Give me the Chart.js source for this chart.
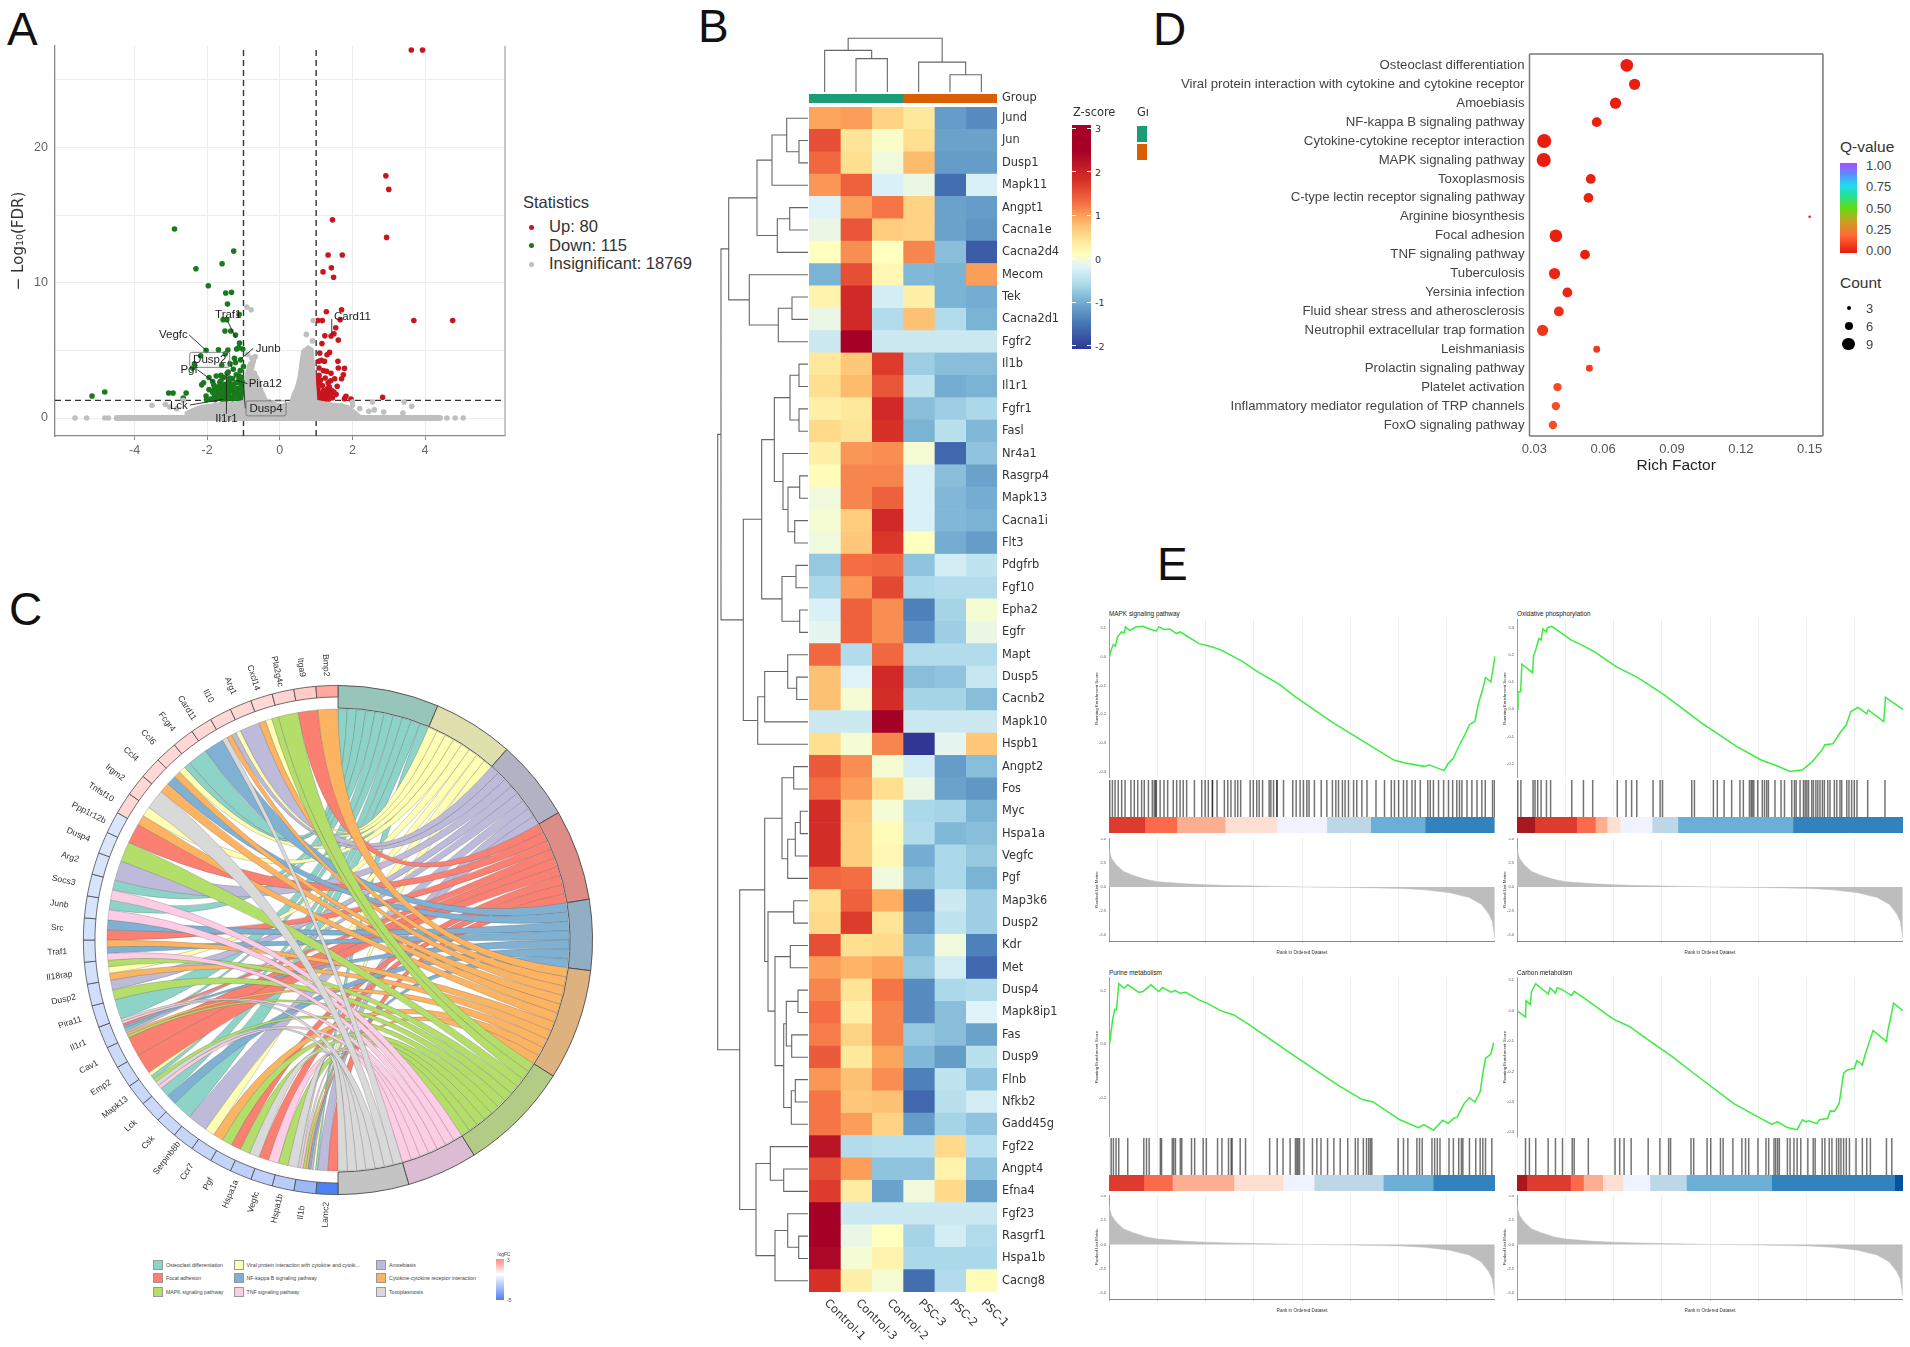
<!DOCTYPE html>
<html>
<head>
<meta charset="utf-8">
<script src="https://cdn.jsdelivr.net/npm/chart.js@4/dist/chart.umd.min.js"></script>
<style>
  body { margin: 0; background: #fff; overflow: hidden; }
  #page { position: relative; width: 1910px; height: 1347px; overflow: hidden; font-family: "Liberation Sans", Arial, sans-serif; }
  #page div { position: absolute; white-space: nowrap; }
  canvas { position: absolute; }
</style>
</head>
<body>
<div id="page"></div>
<script>
// ---- panel A, volcano
const upX = [3.62,3.93,2.92,3.0,2.94,1.45,1.33,1.72,1.42,1.19,1.48,1.28,1.70,1.05,1.17,1.66,3.69,4.76,1.54,1.24,1.41,1.49,1.61,1.16,1.1,1.37,1.3,1.14,1.07,1.23,1.6,1.08,1.29,1.41,1.61,1.78,1.75,1.7,1.08,1.33,1.51,1.05,1.17,1.36,1.58,1.05,1.21,1.42,1.08,1.27,1.49,1.02,1.14,1.33,1.05,1.23,1.82,1.78,1.96,2.83,1.1,1.18,1.3,1.4,1.25,1.35,1.15,1.06,1.12,1.25,1.4,1.55,1.02,1.2,1.02,1.32,1.45,1.12];
const upY = [27.2,27.2,17.9,16.9,13.35,14.65,12.05,12.05,11.1,10.8,10.4,7.85,8.0,7.2,7.2,7.27,7.2,7.2,6.67,6.08,6.06,6.23,5.76,5.5,4.8,4.85,4.68,4.26,4.2,4.2,4.2,3.7,3.45,3.3,3.7,3.67,3.2,2.9,3.15,2.6,2.9,2.55,2.4,2.3,2.35,2.17,2.05,2.05,1.85,1.67,1.92,1.55,1.6,1.6,1.43,1.5,1.6,1.43,1.4,1.53,1.7,1.8,1.9,1.75,1.35,1.4,1.35,1.9,2.8,2.95,2.75,1.75,2.9,3.5,2.2,2.2,1.5,1.45];
const downX = [-2.90,-1.27,-1.59,-2.31,-1.97,-1.49,-1.33,-1.44,-1.12,-1.56,-1.46,-1.51,-1.35,-1.22,-1.11,-1.13,-2.03,-1.69,-1.43,-1.19,-1.02,-2.18,-1.5,-1.25,-1.08,-2.35,-2.4,-1.37,-1.0,-1.6,-1.28,-1.45,-1.09,-1.2,-1.3,-1.05,-1.95,-2.1,-2.15,-1.75,-1.55,-1.65,-1.85,-1.7,-1.8,-1.6,-1.5,-1.4,-1.2,-1.1,-1.0,-1.75,-1.6,-1.45,-1.3,-1.15,-1.05,-1.85,-1.7,-1.55,-1.4,-1.25,-1.1,-1.0,-1.8,-1.65,-1.5,-1.35,-1.2,-1.05,-1.9,-1.75,-1.6,-1.45,-1.3,-1.15,-1.0,-2.03,-2.02,-2.58,-2.66,-3.06,-2.94,-5.17,-4.82,-1.78,-1.68,-1.58,-1.48,-1.38,-1.28,-1.18,-1.08,-1.82,-1.72,-1.62,-1.52,-1.42,-1.32,-1.22,-1.12,-1.02,-1.7,-1.55,-1.35,-1.15,-1.25,-1.42,-1.62,-1.85,-1.95,-1.38,-1.12,-1.03,-1.22];
const downY = [13.97,12.34,11.4,11.03,9.78,9.24,9.29,8.42,7.66,7.27,7.27,6.43,6.43,6.13,5.54,5.2,5.0,5.05,5.02,5.1,5.1,4.6,4.75,4.42,4.3,4.0,3.7,4.0,3.8,3.9,3.6,3.3,3.5,3.2,2.9,3.0,3.0,2.6,2.45,3.1,3.0,2.65,2.7,2.3,2.2,2.4,2.5,2.7,2.6,2.6,2.4,2.0,2.05,2.1,2.15,2.2,2.05,1.9,1.75,1.8,1.85,1.9,1.75,1.7,1.6,1.55,1.6,1.55,1.6,1.5,1.4,1.45,1.4,1.4,1.4,1.4,1.35,1.63,1.35,1.85,1.48,1.85,1.85,1.63,1.92,1.35,1.65,1.95,2.25,1.55,2.35,1.95,2.25,2.45,2.12,2.75,1.7,2.3,2.5,1.7,2.9,1.9,1.55,1.35,2.05,1.5,1.8,3.4,3.15,2.0,2.1,2.95,3.1,2.7,4.1];
const insigX = [-5.64,-5.32,-4.82,-4.72,4.6,4.83,5.05,-3.52,-3.15,-3.03,-2.84,-2.66,2.0,2.0,2.55,2.86,3.42,3.63,3.39,1.7,2.2,2.6,2.45,-0.91,-0.79,0.92,0.73,0.9,-0.89,-0.77,-0.68,-0.83,-0.7,-0.6];
const insigY = [0,0,0,0,0,0,0,0.94,1.01,0.81,0.69,1.3,0.94,1.18,1.18,0.44,1.18,0.86,0.37,0.9,0.7,0.6,0.5,8.2,8,7.2,6.18,5.7,4.7,4.43,4.55,3.8,3.3,2.7];
// outline of the grey mass that is too dense to read point by point
const insigOutlineX = [-2.61,-2.61,-2.42,-2.18,-1.93,-1.56,-1.19,-1.0,-0.97,-0.95,-0.85,-0.64,-0.73,-0.58,-0.46,-0.33,0.04,0.28,0.34,0.43,0.5,0.55,0.6,0.78,0.92,0.97,1.02,1.27,1.88,2.13,2.31];
const insigOutlineY = [0,0.44,0.69,0.94,1.01,1.18,1.18,1.3,1.8,3.28,4.14,4.5,3.55,3.05,2.04,1.3,1.01,1.18,1.8,2.29,3.03,4.01,5.0,5.37,5.12,3.28,1.3,1.18,0.94,0.44,0];
const insigBaseX = [-4.49,4.41];
const insigBaseY = [0,0];
const volcanoNames = ["Traf1","Card11","Vegfc","Junb","Dusp2","Pgf","Pira12","Dusp4","Lck","Il1r1"];
const volcanoNameX = [-1.42,2.0,-2.93,-0.32,-1.93,-2.5,-0.4,-0.38,-2.78,-1.47];
const volcanoNameY = [7.6,7.45,6.18,5.15,4.3,3.57,2.54,0.71,0.89,-0.05];
const volcanoLineFrom = [[-1.44,7.18],[1.43,7.32],[-2.5,6.15],[-0.73,5.15],[-1.41,4.23],[-2.27,3.57],[-0.89,2.54],[-0.95,0.71],[-2.48,0.96],[-1.47,0.32]];
const volcanoLineTo = [[-1.22,5.95],[1.43,6.13],[-2.03,5.0],[-1.08,4.35],[-1.32,3.74],[-1.81,2.66],[-1.2,2.79],[-1,2.54],[-1.56,1.38],[-1.47,3.28]];
const volcanoBoxed = ["Dusp2","Dusp4"];

// ---- panel B, heatmap
const samples = ["Control-1","Control-3","Control-2","PSC-3","PSC-2","PSC-1"];
const genes = ["Jund","Jun","Dusp1","Mapk11","Angpt1","Cacna1e","Cacna2d4","Mecom","Tek","Cacna2d1","Fgfr2","Il1b","Il1r1","Fgfr1","Fasl","Nr4a1","Rasgrp4","Mapk13","Cacna1i","Flt3","Pdgfrb","Fgf10","Epha2","Egfr","Mapt","Dusp5","Cacnb2","Mapk10","Hspb1","Angpt2","Fos","Myc","Hspa1a","Vegfc","Pgf","Map3k6","Dusp2","Kdr","Met","Dusp4","Mapk8ip1","Fas","Dusp9","Flnb","Nfkb2","Gadd45g","Fgf22","Angpt4","Efna4","Fgf23","Rasgrf1","Hspa1b","Cacng8"];
const zScores = [
  [0.95,1.0,0.6,0.4,-1.15,-1.3],[1.55,0.45,0.05,0.5,-1.1,-1.1],[1.35,0.5,-0.05,0.8,-1.15,-1.15],[1.05,1.4,-0.25,-0.1,-1.55,-0.25],
  [-0.2,1.0,1.25,0.6,-1.1,-1.15],[-0.1,1.5,0.65,0.6,-1.1,-1.2],[0.1,1.1,0.1,1.15,-0.85,-1.7],[-0.95,1.55,0.2,-0.9,-0.95,1.0],
  [0.25,1.9,-0.3,0.3,-0.95,-1.0],[-0.1,1.9,-0.55,0.75,-0.55,-0.95],[-0.35,2.6,-0.35,-0.35,-0.35,-0.35],[0.4,0.7,1.7,-0.7,-0.85,-0.85],
  [0.5,0.8,1.5,-0.45,-1.0,-0.95],[0.3,0.4,1.9,-0.85,-0.7,-0.6],[0.55,0.45,1.8,-0.95,-0.5,-0.9],[0.3,1.05,1.1,0,-1.6,-0.8],
  [0.15,1.15,1.15,-0.25,-0.85,-1.1],[-0.05,1.15,1.4,-0.25,-0.9,-1],[0,0.65,1.9,-0.25,-0.9,-0.95],[-0.05,0.7,1.75,0.1,-1,-1.15],
  [-0.75,1.3,1.35,-0.8,-0.3,-0.45],[-0.6,1.05,1.6,-0.6,-0.55,-0.55],[-0.25,1.4,1.1,-1.4,-0.65,0],[-0.15,1.4,1.1,-1.25,-0.7,-0.1],
  [1.35,-0.55,1.35,-0.55,-0.55,-0.55],[0.75,-0.2,1.9,-0.85,-0.8,-0.4],[0.75,0,1.85,-0.65,-0.65,-0.85],[-0.35,-0.35,2.6,-0.35,-0.35,-0.35],
  [0.5,0,1.15,-2,-0.15,0.7],[1.45,1.1,0,-0.3,-1.15,-0.85],[1.3,1,0.5,-0.1,-1.1,-1.2],[1.85,0.7,0,-0.6,-0.65,-0.95],
  [1.85,0.65,0.15,-0.55,-0.9,-0.85],[1.85,0.65,0.2,-1,-0.6,-0.75],[1.35,1.3,-0.05,-0.85,-0.6,-0.95],[0.5,1.4,0.9,-1.4,-0.35,-0.7],
  [0.55,1.7,0.45,-1.2,-0.45,-0.7],[1.55,0.5,0.55,-0.9,-0.05,-1.4],[1,0.85,0.95,-0.75,-0.3,-1.6],[1.15,0.45,1.25,-1.3,-0.6,-0.55],
  [1.3,0.3,1.15,-1.3,-0.85,-0.2],[1.2,0.6,1.15,-0.75,-0.85,-1.1],[1.45,0.4,0.95,-0.9,-1.15,-0.5],[1.05,0.75,1.1,-1.4,-0.45,-0.8],
  [1.25,0.7,0.75,-1.6,-0.5,-0.3],[1.25,1,0.6,-1.15,-0.65,-0.8],[2.2,-0.55,-0.5,-0.5,0.55,-0.5],[1.55,1,-0.8,-0.8,0.25,-0.8],
  [1.7,0.35,-1.1,-0.05,0.55,-1.1],[2.6,-0.35,-0.35,-0.35,-0.35,-0.35],[2.5,-0.1,0.1,-0.65,-0.3,-0.55],[2.4,0,0.25,-0.6,-0.6,-0.6],[1.8,0.3,0,-1.55,-0.55,0.15]
];
// dendrograms: [height, childA, childB], a plain number is a leaf index
const rowTree = [90.3,
  [87,
    [79.3,
      [51,[36,[21.3,0,[9,1,2]],3],[30.7,[18.3,4,5],6]],
      [58.7,7,[29.7,[16,8,9],10]]],
    [64.7,
      [46.3,
        [33.7,[18,[9,11,12],[9,13,14]],[25,15,[20,[8.3,16,17],[13.3,18,19]]]],
        [26,[12,20,21],[8.3,22,23]]],
      [50.3,[43.3,[20.3,24,[11.3,25,26]],27],28]]],
  [68.3,
    [43.3,
      [26,[14.3,29,30],[20.3,[12.7,[7.7,31,32],33],34]],
      [40,[14.3,35,36],[33,[17.7,37,38],[24.3,[21.7,[10,39,40],[16.3,41,42]],[16.7,[12.7,43,44],45]]]]],
    [52,
      [37.7,46,[24.3,47,48]],
      [33,[20.3,49,[9.3,50,51]],52]]]];
const colTree = [53.8,[41.6,0,[33.4,1,2]],[29.9,3,[17.3,4,5]]];
const groupSizes = [3,3];
const zTicks = [3,2,1,0,-1,-2];

// ---- panel D, enrichment
const pathways = ["Osteoclast differentiation","Viral protein interaction with cytokine and cytokine receptor","Amoebiasis","NF-kappa B signaling pathway","Cytokine-cytokine receptor interaction","MAPK signaling pathway","Toxoplasmosis","C-type lectin receptor signaling pathway","Arginine biosynthesis","Focal adhesion","TNF signaling pathway","Tuberculosis","Yersinia infection","Fluid shear stress and atherosclerosis","Neutrophil extracellular trap formation","Leishmaniasis","Prolactin signaling pathway","Platelet activation","Inflammatory mediator regulation of TRP channels","FoxO signaling pathway"];
const richFactor = [0.0703,0.0737,0.0654,0.0572,0.0343,0.0341,0.0546,0.0536,0.15,0.0394,0.0521,0.0388,0.0444,0.0407,0.0336,0.0572,0.054,0.0401,0.0394,0.0381];
const qValue = [0.005,0.01,0.01,0.015,0.01,0.005,0.02,0.02,0.02,0.015,0.015,0.03,0.03,0.05,0.07,0.08,0.09,0.12,0.13,0.13];
const hitCount = [9,8,8,7,10,10,7,7,2,9,7,8,7,7,8,5,5,6,6,6];
const qTicks = ["1.00","0.75","0.50","0.25","0.00"];
const countTicks = [3,6,9];

// ---- panel C, chord
const termNames = ["Osteoclast differentiation","Viral protein interaction with cytokine and cytoki...","Amoebiasis","Focal adhesion","NF-kappa B signaling pathway","Cytokine-cytokine receptor interaction","MAPK signaling pathway","TNF signaling pathway","Toxoplasmosis"];
const termCounts = [10,8,8,9,7,11,11,7,7];
const chordGenes = ["Lamc2","Il1b","Hspa1b","Vegfc","Hspa1a","Pgf","Ccr7","Serpinb8b","Csk","Lck","Mapk13","Emp2","Cav1","Il1r1","Pira11","Dusp2","Il18rap","Traf1","Src","Junb","Socs3","Arg2","Dusp4","Ppp1r12b","Tnfsf10","Irgm2","Ccl4","Ccl6","Fcgr4","Card11","Il10","Arg1","Cxcl14","Pla2g4c","Itga9","Bmp2"];
const chordLogFC = [-5,-2.8,-2,-1.8,-1.8,-1.7,-1.6,-1.6,-1.5,-1.5,-1.5,-1.4,-1.4,-1.4,-1.3,-1.3,-1.2,-1.2,-1.2,-1.1,-1.1,-1.1,-1,-1,1,1,1,1,1,1,1,1,1,1.1,1.3,2.2];
// which terms (index into termNames) each gene of chordGenes belongs to
const geneTerms = [[3,2],[0,1,2,4,5,6,7,8],[8,6],[7,3],[8,6],[3,6],[5,1],[2],[0],[4,0],[7,8,6,0,1],[3],[3],[6,5,2,0,4,3,7,8],[0],[6,2],[5,1,6],[7,4,5],[3,4],[7,0],[7,0],[2],[6],[3],[5,1],[8],[5,4],[5,1,0],[0],[4],[8,5,2,1],[2],[5,1,6],[6],[3],[5]];

// ---- panel E, GSEA
const gseaTitles = ["MAPK signaling pathway","Oxidative phosphorylation","Purine metabolism","Carbon metabolism"];
const mapkRank = [2,9,18,26,35,51,62,68,84,95,110,139,172,194,205,227,249,277,293,326,370,414,458,546,612,700,766,920,1107,1173,1217,1294,1316,1377,1393,1415,1437,1459,1481,1503,1518,1536,1547,1569,1586];
const mapkScore = [0,0.025,0.043,0.037,0.069,0.087,0.083,0.104,0.092,0.096,0.104,0.106,0.095,0.09,0.104,0.095,0.097,0.081,0.087,0.069,0.046,0.037,0.025,-0.015,-0.052,-0.096,-0.139,-0.229,-0.326,-0.36,-0.369,-0.381,-0.376,-0.396,-0.372,-0.352,-0.312,-0.277,-0.236,-0.225,-0.162,-0.11,-0.072,-0.087,0.002];
const oxRank = [0,4,15,20,64,68,77,90,99,106,121,125,143,220,275,319,407,495,605,759,902,1001,1067,1122,1173,1210,1254,1265,1298,1331,1353,1371,1401,1437,1443,1507,1514,1586];
const oxScore = [0,0.065,0.065,0.166,0.135,0.196,0.22,0.261,0.255,0.297,0.285,0.301,0.306,0.257,0.233,0.212,0.157,0.118,0.053,-0.051,-0.137,-0.186,-0.208,-0.229,-0.223,-0.196,-0.149,-0.131,-0.127,-0.082,-0.058,-0.009,0.007,-0.017,-0.002,-0.045,0.044,0];
const purineRank = [2,9,15,24,31,40,62,77,123,139,172,205,220,255,271,293,315,370,403,458,513,568,766,942,1041,1085,1195,1272,1294,1333,1371,1393,1415,1430,1459,1481,1503,1525,1536,1547,1569,1580];
const purineScore = [0,0.047,0.093,0.13,0.128,0.225,0.209,0.221,0.193,0.196,0.221,0.196,0.211,0.194,0.2,0.19,0.193,0.165,0.153,0.125,0.109,0.078,-0.046,-0.152,-0.205,-0.214,-0.28,-0.309,-0.298,-0.319,-0.282,-0.294,-0.276,-0.27,-0.22,-0.198,-0.214,-0.176,-0.108,-0.052,-0.036,0.006];
const carbonRank = [0,35,37,55,59,77,128,136,158,165,180,224,235,286,396,462,539,638,726,891,990,1045,1071,1111,1151,1173,1188,1199,1232,1243,1276,1287,1305,1324,1342,1357,1386,1397,1419,1430,1463,1518,1525,1536,1547,1586];
const carbonScore = [0,-0.021,0.033,0.02,0.062,0.089,0.055,0.075,0.058,0.075,0.072,0.05,0.064,0.036,-0.028,-0.052,-0.096,-0.151,-0.206,-0.306,-0.35,-0.374,-0.366,-0.385,-0.392,-0.359,-0.366,-0.363,-0.372,-0.359,-0.355,-0.33,-0.331,-0.304,-0.206,-0.195,-0.19,-0.164,-0.179,-0.146,-0.065,-0.102,-0.061,-0.021,0.025,0];
const mapkHits = [3,14,25,38,52,66,90,104,118,134,145,162,178,186,193,193,210,226,241,264,278,292,305,319,351,381,395,408,425,425,444,474,488,501,518,529,541,580,593,607,617,631,658,665,676,690,690,717,755,769,785,799,813,822,844,872,895,918,932,943,959,970,984,1005,1018,1039,1060,1097,1132,1160,1173,1190,1210,1224,1245,1258,1279,1310,1320,1333,1354,1375,1395,1412,1429,1440,1450,1471,1491,1512,1532,1546,1576,1584];
const oxHits = [3,16,66,74,85,99,121,138,225,273,311,412,448,471,492,559,588,598,718,729,807,823,851,882,916,930,955,962,967,973,989,1008,1017,1026,1033,1060,1085,1099,1129,1140,1147,1163,1177,1184,1191,1198,1211,1218,1228,1236,1245,1255,1263,1277,1286,1304,1314,1327,1334,1355,1364,1375,1386,1397,1441,1512];
const purineHits = [9,18,29,40,77,143,154,165,211,216,260,266,273,293,299,339,352,387,400,446,464,491,502,506,539,561,660,691,715,744,766,772,777,783,801,836,854,871,898,924,950,981,1012,1023,1045,1058,1067,1074,1080,1188,1210,1228,1265,1276,1287,1327,1338,1349,1360,1397,1415,1437,1448,1454,1481,1507,1525,1536,1547,1573];
const carbonHits = [35,51,77,128,158,187,227,235,293,403,422,440,469,539,587,623,631,715,726,781,796,836,847,887,924,939,952,990,1023,1034,1056,1063,1071,1078,1111,1122,1138,1151,1166,1195,1217,1225,1254,1265,1283,1294,1313,1322,1331,1342,1353,1366,1393,1419,1437,1452,1518,1540];
const mapkStrip = [147,132,198,213,205,180,224,284];
const oxStrip = [73,172,77,48,53,132,106,473,453];
const purineStrip = [143,117,253,202,128,284,205,253];
const carbonStrip = [40,180,53,79,84,110,150,350,506,35];
const metricRank = [0,5,10,30,60,100,150,200,300,400,500,700,800,1000,1200,1300,1400,1480,1530,1560,1575,1585];
const metricValue = [4.05,3.5,3.0,2.3,1.6,1.2,0.8,0.55,0.35,0.22,0.15,0.05,0,-0.05,-0.15,-0.3,-0.6,-1.1,-1.8,-2.8,-3.6,-5.3];

// ---- styling and helpers
const RED = "#c9151e", GREEN = "#197a1c", GREY = "#bfbfbf";
const ribbonColors = ["#8dd3c7","#ffffb3","#bebada","#fb8072","#80b1d3","#fdb462","#b3de69","#fccde5","#d9d9d9"];
const termRingColors = ["#97c5ba","#dfdfad","#b3b1c4","#dd8c86","#90aec4","#deb27e","#b2cc85","#dcbcd2","#c4c4c4"];
const zStops = [[-2,"#313695"],[-1.5,"#4575b4"],[-1,"#74add1"],[-0.6,"#abd9e9"],[-0.2,"#e0f3f8"],[0.1,"#ffffbf"],[0.5,"#fee090"],[0.9,"#fdae61"],[1.3,"#f46d43"],[1.8,"#d73027"],[2.5,"#a50026"],[3,"#a50026"]];
const qStops = [[0,"#e81a0c"],[0.2,"#ff6a35"],[0.35,"#c9a020"],[0.5,"#5edc10"],[0.65,"#20e0a0"],[0.75,"#20dcf0"],[0.87,"#5c90ff"],[1,"#a84cff"]];
const fcStops = [[-5,"#4d80f0"],[0,"#ffffff"],[3,"#ff8a80"]];
const stripColors = {
  mapk: ["#de3b30","#fb6a4a","#fcae91","#fee0d2","#eff3ff","#bdd7e7","#6baed6","#3182bd"],
  ox: ["#a8191f","#de3b30","#fb6a4a","#fcae91","#fee0d2","#eff3ff","#bdd7e7","#6baed6","#3182bd"],
  purine: ["#de3b30","#fb6a4a","#fcae91","#fee0d2","#eff3ff","#bdd7e7","#6baed6","#3182bd"],
  carbon: ["#a8191f","#de3b30","#fb6a4a","#fcae91","#fee0d2","#eff3ff","#bdd7e7","#6baed6","#3182bd","#08519c"]
};

Chart.defaults.font.family = '"Liberation Sans", Arial, sans-serif';
Chart.defaults.animation = false;
Chart.defaults.responsive = false;
Chart.defaults.plugins.legend.display = false;
Chart.defaults.plugins.tooltip.enabled = false;

const page = document.getElementById("page");
const DEJAVU = '"DejaVu Sans", sans-serif';

function addCanvas(x, y, w, h) {
  const c = document.createElement("canvas");
  c.width = w; c.height = h;
  c.style.left = x + "px"; c.style.top = y + "px";
  page.appendChild(c);
  return c;
}

function label(str, x, y, size, opts = {}) {
  const d = document.createElement("div");
  d.textContent = str;
  d.style.left = x + "px"; d.style.top = y + "px";
  d.style.fontSize = size + "px";
  d.style.color = opts.color || "#333";
  if (opts.family) d.style.fontFamily = opts.family;
  const tx = opts.anchor === "c" ? "-50%" : opts.anchor === "r" ? "-100%" : "0";
  d.style.transform = `translate(${tx},-50%)`;
  if (opts.width) { d.style.width = opts.width + "px"; d.style.overflow = "hidden"; }
  page.appendChild(d);
  return d;
}

function box(x, y, w, h, css) {
  const d = document.createElement("div");
  d.style.left = x + "px"; d.style.top = y + "px";
  d.style.width = w + "px"; d.style.height = h + "px";
  d.style.cssText += css;
  page.appendChild(d);
  return d;
}

function hex(c) { return [1,3,5].map(i => parseInt(c.slice(i, i + 2), 16)); }

function ramp(stops, v) {
  if (v <= stops[0][0]) return stops[0][1];
  for (let i = 1; i < stops.length; i++) {
    if (v <= stops[i][0]) {
      const t = (v - stops[i-1][0]) / (stops[i][0] - stops[i-1][0]);
      const a = hex(stops[i-1][1]), b = hex(stops[i][1]);
      return "rgb(" + a.map((p, k) => Math.round(p + (b[k] - p) * t)).join(",") + ")";
    }
  }
  return stops[stops.length-1][1];
}

function gradient(stops, dir) {
  const lo = stops[0][0], hi = stops[stops.length-1][0];
  return `linear-gradient(${dir},` + stops.map(s => `${s[1]} ${(s[0]-lo)/(hi-lo)*100}%`).join(",") + ")";
}

const zip = (xs, ys) => xs.map((x, i) => ({ x, y: ys[i] }));

function fixAxis(size) {
  return s => {
    if (s.isHorizontal()) s.height = size; else s.width = size;
    s.paddingLeft = s.paddingRight = s.paddingTop = s.paddingBottom = 0;
  };
}

const framePlugin = (sides, color, width) => ({
  id: "frame",
  afterDatasetsDraw(chart) {
    const { ctx, chartArea: a } = chart;
    ctx.save();
    ctx.strokeStyle = color; ctx.lineWidth = width;
    ctx.beginPath();
    if (sides.includes("t")) { ctx.moveTo(a.left, a.top); ctx.lineTo(a.right, a.top); }
    if (sides.includes("r")) { ctx.moveTo(a.right, a.top); ctx.lineTo(a.right, a.bottom); }
    if (sides.includes("b")) { ctx.moveTo(a.left, a.bottom); ctx.lineTo(a.right, a.bottom); }
    if (sides.includes("l")) { ctx.moveTo(a.left, a.top); ctx.lineTo(a.left, a.bottom); }
    ctx.stroke();
    ctx.restore();
  }
});

function treePoints(node, out) {
  if (typeof node === "number") return { pos: node, h: 0 };
  const a = treePoints(node[1], out), b = treePoints(node[2], out), h = node[0];
  out.push({ p: a.pos, h: a.h }, { p: a.pos, h }, { p: b.pos, h }, { p: b.pos, h: b.h }, { p: null, h: null });
  return { pos: (a.pos + b.pos) / 2, h };
}

// ---- panel letters
label("A", 7, 29, 46, { color: "#111" });
label("B", 698, 26, 46, { color: "#111" });
label("C", 9, 609, 46, { color: "#111" });
label("D", 1153, 29, 46, { color: "#111" });
label("E", 1157, 564, 46, { color: "#111" });

// ---- A
const volcanoLabels = {
  id: "volcanoLabels",
  afterDatasetsDraw(chart) {
    const { ctx, scales: { x, y } } = chart;
    ctx.save();
    ctx.font = '11.5px "Liberation Sans"';
    ctx.textAlign = "center"; ctx.textBaseline = "middle";
    ctx.strokeStyle = "#222"; ctx.lineWidth = 0.9;
    volcanoNames.forEach((name, i) => {
      ctx.beginPath();
      ctx.moveTo(x.getPixelForValue(volcanoLineFrom[i][0]), y.getPixelForValue(volcanoLineFrom[i][1]));
      ctx.lineTo(x.getPixelForValue(volcanoLineTo[i][0]), y.getPixelForValue(volcanoLineTo[i][1]));
      ctx.stroke();
      const px = x.getPixelForValue(volcanoNameX[i]), py = y.getPixelForValue(volcanoNameY[i]);
      if (volcanoBoxed.includes(name)) {
        ctx.strokeStyle = "#777";
        ctx.beginPath(); ctx.roundRect(px - 20, py - 7.5, 40, 15, 2); ctx.stroke();
        ctx.strokeStyle = "#222";
      }
      ctx.fillStyle = "#222";
      ctx.fillText(name, px, py);
    });
    ctx.restore();
  }
};

new Chart(addCanvas(0, 40, 510, 440), {
  type: "scatter",
  data: { datasets: [
    { data: zip(insigOutlineX, insigOutlineY), showLine: true, tension: 0, fill: "origin", backgroundColor: GREY, borderColor: GREY, borderWidth: 1, pointRadius: 0 },
    { data: zip(insigBaseX, insigBaseY), showLine: true, borderColor: GREY, borderWidth: 6, borderCapStyle: "round", pointRadius: 0 },
    { data: zip(insigX, insigY), backgroundColor: GREY, pointRadius: 2.8, pointBorderWidth: 0 },
    { data: zip(downX, downY), backgroundColor: GREEN, pointRadius: 2.8, pointBorderWidth: 0 },
    { data: zip(upX, upY), backgroundColor: RED, pointRadius: 2.8, pointBorderWidth: 0 },
    { data: [{x:-1,y:-1.33},{x:-1,y:27.5}], showLine: true, borderColor: "#333", borderWidth: 1.4, borderDash: [6,4], pointRadius: 0 },
    { data: [{x:1,y:-1.33},{x:1,y:27.5}], showLine: true, borderColor: "#333", borderWidth: 1.4, borderDash: [6,4], pointRadius: 0 },
    { data: [{x:-6.19,y:1.3},{x:6.2,y:1.3}], showLine: true, borderColor: "#333", borderWidth: 1.4, borderDash: [6,4], pointRadius: 0 }
  ] },
  options: {
    layout: { padding: { top: 6, right: 5 } },
    scales: {
      x: { type: "linear", min: -6.19, max: 6.2,
        afterBuildTicks: s => { s.ticks = s.ticks.filter(t => Math.abs(t.value) < 6); },
        ticks: { stepSize: 2, includeBounds: false, color: "#666", font: { size: 12.5 } },
        grid: { color: "#ececec", tickColor: "#888", tickLength: 4 },
        border: { color: "#888", width: 1.3 }, afterFit: fixAxis(44) },
      y: { min: -1.33, max: 27.5,
        ticks: { stepSize: 5, includeBounds: false, color: "#666", font: { size: 12.5 }, callback: v => v % 10 === 0 ? v : "" },
        grid: { color: "#ececec", tickLength: 4, tickColor: "#fff" },
        border: { color: "#888", width: 1.3 },
        title: { display: true, text: "− Log₁₀(FDR)", font: { size: 15, family: DEJAVU }, color: "#333", padding: { top: 10, bottom: 0 } },
        afterFit: fixAxis(55) }
    }
  },
  plugins: [volcanoLabels, framePlugin("r", "#aaa", 1.3)]
});

label("Statistics", 523, 202, 16.5);
[["Up: 80", RED, 227], ["Down: 115", GREEN, 245.7], ["Insignificant: 18769", GREY, 264]].forEach(r => {
  box(528.5, r[2] - 2.5, 5, 5, `background:${r[1]};border-radius:50%;`);
  label(r[0], 549, r[2], 16.6);
});

// ---- B
new Chart(addCanvas(809, 107, 262, 1257), {
  type: "bar",
  data: {
    labels: genes,
    datasets: samples.map((s, k) => ({
      label: s,
      data: genes.map(() => 1),
      backgroundColor: zScores.map(row => ramp(zStops, row[k])),
      barPercentage: 1, categoryPercentage: 1, borderWidth: 0
    }))
  },
  options: {
    indexAxis: "y",
    scales: {
      x: { stacked: true, min: 0, max: 6, grid: { display: false }, border: { display: false }, ticks: { display: false }, afterFit: fixAxis(72) },
      y: { stacked: true, position: "right", grid: { display: false, drawTicks: false }, border: { display: false },
        ticks: { autoSkip: false, color: "#333", padding: 5, font: { size: 11.4, family: DEJAVU } }, afterFit: fixAxis(74) }
    }
  },
  plugins: [{
    id: "sampleLabels",
    afterDraw(chart) {
      const { ctx, chartArea: a, scales: { x } } = chart;
      ctx.save();
      ctx.font = '11.4px "DejaVu Sans"'; ctx.fillStyle = "#333"; ctx.textBaseline = "middle";
      samples.forEach((s, i) => {
        ctx.save();
        ctx.translate(x.getPixelForValue(i + 0.5) + 1.5, a.bottom + 9.5);
        ctx.rotate(Math.PI / 4);
        ctx.fillText(s, 0, 0);
        ctx.restore();
      });
      ctx.restore();
    }
  }]
});

new Chart(addCanvas(809, 89, 262, 19), {
  type: "bar",
  data: { labels: ["Group"], datasets: [
    { data: [groupSizes[0]], backgroundColor: "#1b9e77", barPercentage: 1, categoryPercentage: 1 },
    { data: [groupSizes[1]], backgroundColor: "#d95f02", barPercentage: 1, categoryPercentage: 1 }
  ] },
  options: {
    indexAxis: "y",
    layout: { padding: { top: 5, bottom: 5 } },
    scales: {
      x: { stacked: true, display: false, min: 0, max: 6 },
      y: { stacked: true, position: "right", grid: { display: false, drawTicks: false }, border: { display: false },
        ticks: { color: "#333", padding: 5, font: { size: 11.4, family: DEJAVU } }, afterFit: fixAxis(74) }
    }
  }
});

const rowPts = [];
treePoints(rowTree, rowPts);
new Chart(addCanvas(716, 107, 92, 1185), {
  type: "scatter",
  data: { datasets: [{ data: rowPts.map(q => ({ x: q.h, y: q.p })), showLine: true, spanGaps: false, borderColor: "#666", borderWidth: 1.1, pointRadius: 0, clip: false }] },
  options: { scales: {
    x: { display: false, min: 0, max: 92, reverse: true },
    y: { display: false, min: -0.5, max: 52.5, reverse: true }
  } }
});

const colPts = [];
treePoints(colTree, colPts);
new Chart(addCanvas(809, 36, 188, 56), {
  type: "scatter",
  data: { datasets: [{ data: colPts.map(q => ({ x: q.p + 0.5, y: q.h })), showLine: true, spanGaps: false, borderColor: "#666", borderWidth: 1.1, pointRadius: 0, clip: false }] },
  options: { scales: {
    x: { display: false, min: 0, max: 6 },
    y: { display: false, min: 0, max: 56 }
  } }
});

label("Z-score", 1073, 112, 11.4, { family: DEJAVU });
box(1072, 125, 19, 224, `background:${gradient([[3.08,"#a50026"],[2.5,"#a50026"],[1.8,"#d73027"],[1.3,"#f46d43"],[0.9,"#fdae61"],[0.5,"#fee090"],[0.1,"#ffffbf"],[-0.2,"#e0f3f8"],[-0.6,"#abd9e9"],[-1,"#74add1"],[-1.5,"#4575b4"],[-2.08,"#313695"]].map(s => [3.08 - s[0], s[1]]), "to bottom")};`);
zTicks.forEach((t, i) => {
  const y = 128.4 + i * 43.45;
  box(1072, y - 0.5, 4, 1, "background:#fff;");
  box(1087, y - 0.5, 4, 1, "background:#fff;");
  label(String(t), 1095, y, 9.5, { family: DEJAVU });
});
label("Gr", 1137, 112, 11.4, { family: DEJAVU, width: 11 });
box(1137, 126, 10, 16, "background:#1b9e77;");
box(1137, 144, 10, 16, "background:#d95f02;");

// ---- D
const countRadius = c => 1.3 + (c - 2) * 0.72;
new Chart(addCanvas(1150, 47, 680, 428), {
  type: "bubble",
  data: { datasets: [{
    data: pathways.map((p, i) => ({ x: richFactor[i], y: i, r: countRadius(hitCount[i]) })),
    backgroundColor: qValue.map(q => ramp(qStops, q)), borderWidth: 0
  }] },
  options: {
    layout: { padding: { top: 4, right: 7 } },
    scales: {
      x: { min: 0.0279, max: 0.1558, grid: { display: false, tickColor: "#444", tickLength: 3 }, border: { display: false },
        ticks: { stepSize: 0.03, includeBounds: false, color: "#555", font: { size: 13 }, callback: v => v.toFixed(2), autoSkip: false, maxRotation: 0 },
        title: { display: true, text: "Rich Factor", color: "#222", font: { size: 15.5 }, padding: { top: 0, bottom: 0 } },
        afterFit: fixAxis(39) },
      y: { min: -0.596, max: 19.58, reverse: true, grid: { display: false, tickColor: "#444", tickLength: 3 }, border: { display: false },
        ticks: { stepSize: 1, includeBounds: false, autoSkip: false, color: "#444", font: { size: 13.2 }, padding: 2, callback: v => pathways[v] },
        afterFit: fixAxis(379.5) }
    }
  },
  plugins: [framePlugin("trbl", "#777", 1.5)]
});

label("Q-value", 1840, 146.7, 15.5);
box(1840, 163, 17, 90, `background:${gradient(qStops, "to top")};`);
qTicks.forEach((t, i) => label(t, 1866, 165 + i * 21.3, 13, { color: "#444" }));
label("Count", 1840, 283, 15.5);
countTicks.forEach((c, i) => {
  const r = countRadius(c);
  box(1848.8 - r, 308 + i * 18 - r, 2 * r, 2 * r, "background:#000;border-radius:50%;");
  label(String(c), 1866, 308 + i * 18, 13, { color: "#444" });
});

// ---- C
const termChart = new Chart(addCanvas(28, 630, 620, 620), {
  type: "doughnut",
  data: { datasets: [{
    data: [...termCounts, termCounts.reduce((a, b) => a + b, 0)],
    backgroundColor: [...termRingColors, "rgba(0,0,0,0)"],
    borderColor: [...termRingColors.map(() => "#4a4a4a"), "rgba(0,0,0,0)"],
    borderWidth: [...termRingColors.map(() => 0.9), 0]
  }] },
  options: { cutout: 232, layout: { padding: 55 } }
});

const chordPlugin = {
  id: "chord",
  afterDatasetsDraw(chart) {
    const { ctx } = chart;
    const termArcs = termChart.getDatasetMeta(0).data;
    const geneArcs = chart.getDatasetMeta(0).data;
    const R = 231;
    const links = [];
    geneTerms.forEach((ts, g) => ts.forEach((t, k) => links.push({ g, t, k, n: ts.length })));
    ctx.save();
    termNames.forEach((name, t) => {
      const list = links.filter(l => l.t === t).sort((a, b) => b.g - a.g);
      const arc = termArcs[t];
      const span = (arc.endAngle - arc.startAngle) / list.length;
      list.forEach((l, i) => {
        const g = geneArcs[l.g + 1];
        const gs = (g.endAngle - g.startAngle) / l.n;
        const a0 = g.startAngle + gs * l.k, a1 = a0 + gs;
        const b0 = arc.startAngle + span * i, b1 = b0 + span;
        const cx = arc.x, cy = arc.y;
        ctx.beginPath();
        ctx.arc(cx, cy, R, a0, a1);
        ctx.quadraticCurveTo(cx, cy, cx + R * Math.cos(b0), cy + R * Math.sin(b0));
        ctx.arc(cx, cy, R, b0, b1);
        ctx.quadraticCurveTo(cx, cy, cx + R * Math.cos(a0), cy + R * Math.sin(a0));
        ctx.closePath();
        ctx.fillStyle = ribbonColors[t];
        ctx.fill();
        ctx.strokeStyle = "rgba(90,90,90,0.55)";
        ctx.lineWidth = 0.5;
        ctx.stroke();
      });
    });
    // gene names, radial and centred just outside the ring
    ctx.font = '8.6px "Liberation Sans"';
    ctx.fillStyle = "#333";
    ctx.textAlign = "center"; ctx.textBaseline = "middle";
    chordGenes.forEach((name, i) => {
      const g = geneArcs[i + 1];
      const mid = (g.startAngle + g.endAngle) / 2;
      ctx.save();
      ctx.translate(g.x + 281 * Math.cos(mid), g.y + 275 * Math.sin(mid));
      ctx.rotate(mid + Math.PI);
      ctx.fillText(name, 0, 0);
      ctx.restore();
    });
    ctx.restore();
  }
};

new Chart(addCanvas(28, 630, 620, 620), {
  type: "doughnut",
  data: { datasets: [{
    data: [chordGenes.length, ...chordGenes.map(() => 1)],
    backgroundColor: ["rgba(0,0,0,0)", ...chordLogFC.map(v => ramp(fcStops, v))],
    borderColor: ["rgba(0,0,0,0)", ...chordGenes.map(() => "#4a4a4a")],
    borderWidth: [0, ...chordGenes.map(() => 0.8)]
  }] },
  options: { cutout: 243, layout: { padding: 55 } },
  plugins: [chordPlugin]
});

const legendCols = [154, 234.6, 377];
const legendRows = [1265, 1278, 1292];
termNames.forEach((name, i) => {
  const cx = legendCols[i % 3], cy = legendRows[Math.floor(i / 3)];
  box(cx, cy - 4, 8, 8, `background:${ribbonColors[i]};outline:0.5px solid #999;`);
  label(name, cx + 12, cy, 5.2, { color: "#444" });
});
label("logFC", 504, 1254, 4.8, { color: "#444", anchor: "c" });
box(496, 1259, 8, 41, `background:${gradient(fcStops, "to top")};`);
label("3", 507, 1260, 4.8, { color: "#444" });
label("-5", 507, 1300, 4.8, { color: "#444" });

// ---- E
function gseaPanel(p) {
  const axisW = 25, plotW = 386;
  const gridX = { grid: { color: "#efefef", drawTicks: false }, border: { display: false }, ticks: { display: false, stepSize: 200, includeBounds: false } };
  label(p.title, p.left, p.titleY, 6.4, { color: "#222" });

  new Chart(addCanvas(p.left - axisW, p.lineTop, axisW + plotW, p.lineH), {
    type: "scatter",
    data: { datasets: [{ data: zip(p.rank, p.score), showLine: true, tension: 0, borderColor: "#3cec40", borderWidth: 1.5, pointRadius: 0 }] },
    options: { scales: {
      x: { min: 0, max: 1586, ...gridX, afterFit: fixAxis(0) },
      y: { min: p.yMin, max: p.yMax, grid: { display: false, tickColor: "#888", tickLength: 2 }, border: { color: "#888", width: 0.8 },
        ticks: { stepSize: p.yStep, includeBounds: false, color: "#555", padding: 1, font: { size: 4 }, callback: v => (Math.abs(v) < 1e-6 ? 0 : v).toFixed(1) },
        title: { display: true, text: "Running Enrichment Score", color: "#333", font: { size: 4.4 }, padding: { top: 10, bottom: 0 } },
        afterFit: fixAxis(axisW) }
    } }
  });

  // one small dataset per hit so that close ticks darken each other
  new Chart(addCanvas(p.left, p.rugTop, plotW, 37), {
    type: "scatter",
    data: { datasets: p.hits.map(h => ({ data: [{ x: h, y: -1 }, { x: h, y: 1 }], showLine: true, borderColor: "rgba(0,0,0,0.55)", borderWidth: 1.5, pointRadius: 0 })) },
    options: { scales: {
      x: { min: 0, max: 1586, ...gridX, afterFit: fixAxis(0) },
      y: { display: false, min: -1, max: 1 }
    } }
  });

  new Chart(addCanvas(p.left, p.rugTop + 37, plotW, 16), {
    type: "bar",
    data: { labels: [""], datasets: p.strip.map((w, i) => ({ data: [w], backgroundColor: p.stripColors[i], barPercentage: 1, categoryPercentage: 1 })) },
    options: { indexAxis: "y", scales: {
      x: { stacked: true, display: false, min: 0, max: 1586 },
      y: { stacked: true, display: false }
    } }
  });

  new Chart(addCanvas(p.left - axisW, p.rankTop, axisW + plotW, p.rankH + 14), {
    type: "scatter",
    data: { datasets: [{ data: zip(metricRank, metricValue), showLine: true, tension: 0, fill: "origin", backgroundColor: "#bdbdbd", borderColor: "#bdbdbd", borderWidth: 0.5, pointRadius: 0 }] },
    options: { scales: {
      x: { min: 0, max: 1586,
        grid: { color: "#efefef", tickColor: "#888", tickLength: 1.5 }, border: { color: "#888", width: 1 },
        ticks: { stepSize: 200, includeBounds: false, autoSkip: false, maxRotation: 0, color: "#555", padding: 1, font: { size: 4 }, callback: v => v > 0 && v % 400 === 0 ? v : "" },
        title: { display: true, text: "Rank in Ordered Dataset", color: "#333", font: { size: 4.6 }, padding: { top: 0, bottom: 0 } },
        afterFit: fixAxis(14) },
      y: { min: -5.63, max: 5.1, grid: { display: false, tickColor: "#888", tickLength: 2 }, border: { color: "#888", width: 0.8 },
        ticks: { stepSize: 2.5, includeBounds: false, color: "#555", padding: 1, font: { size: 4 }, callback: v => v.toFixed(1) },
        title: { display: true, text: "Ranked List Metric", color: "#333", font: { size: 4.4 }, padding: { top: 10, bottom: 0 } },
        afterFit: fixAxis(axisW) }
    } }
  });
}

const row1 = { titleY: 613, lineTop: 619, lineH: 159, rugTop: 780, rankTop: 838, rankH: 103 };
const row2 = { titleY: 972, lineTop: 977, lineH: 160, rugTop: 1138, rankTop: 1195, rankH: 104 };
gseaPanel({ ...row1, title: gseaTitles[0], left: 1109, rank: mapkRank, score: mapkScore, yMin: -0.4215, yMax: 0.1316, yStep: 0.1, hits: mapkHits, strip: mapkStrip, stripColors: stripColors.mapk });
gseaPanel({ ...row1, title: gseaTitles[1], left: 1517, rank: oxRank, score: oxScore, yMin: -0.2534, yMax: 0.333, yStep: 0.1, hits: oxHits, strip: oxStrip, stripColors: stripColors.ox });
gseaPanel({ ...row2, title: gseaTitles[2], left: 1109, rank: purineRank, score: purineScore, yMin: -0.344, yMax: 0.25, yStep: 0.2, hits: purineHits, strip: purineStrip, stripColors: stripColors.purine });
gseaPanel({ ...row2, title: gseaTitles[3], left: 1517, rank: carbonRank, score: carbonScore, yMin: -0.416, yMax: 0.111, yStep: 0.1, hits: carbonHits, strip: carbonStrip, stripColors: stripColors.carbon });
</script>
</body>
</html>
